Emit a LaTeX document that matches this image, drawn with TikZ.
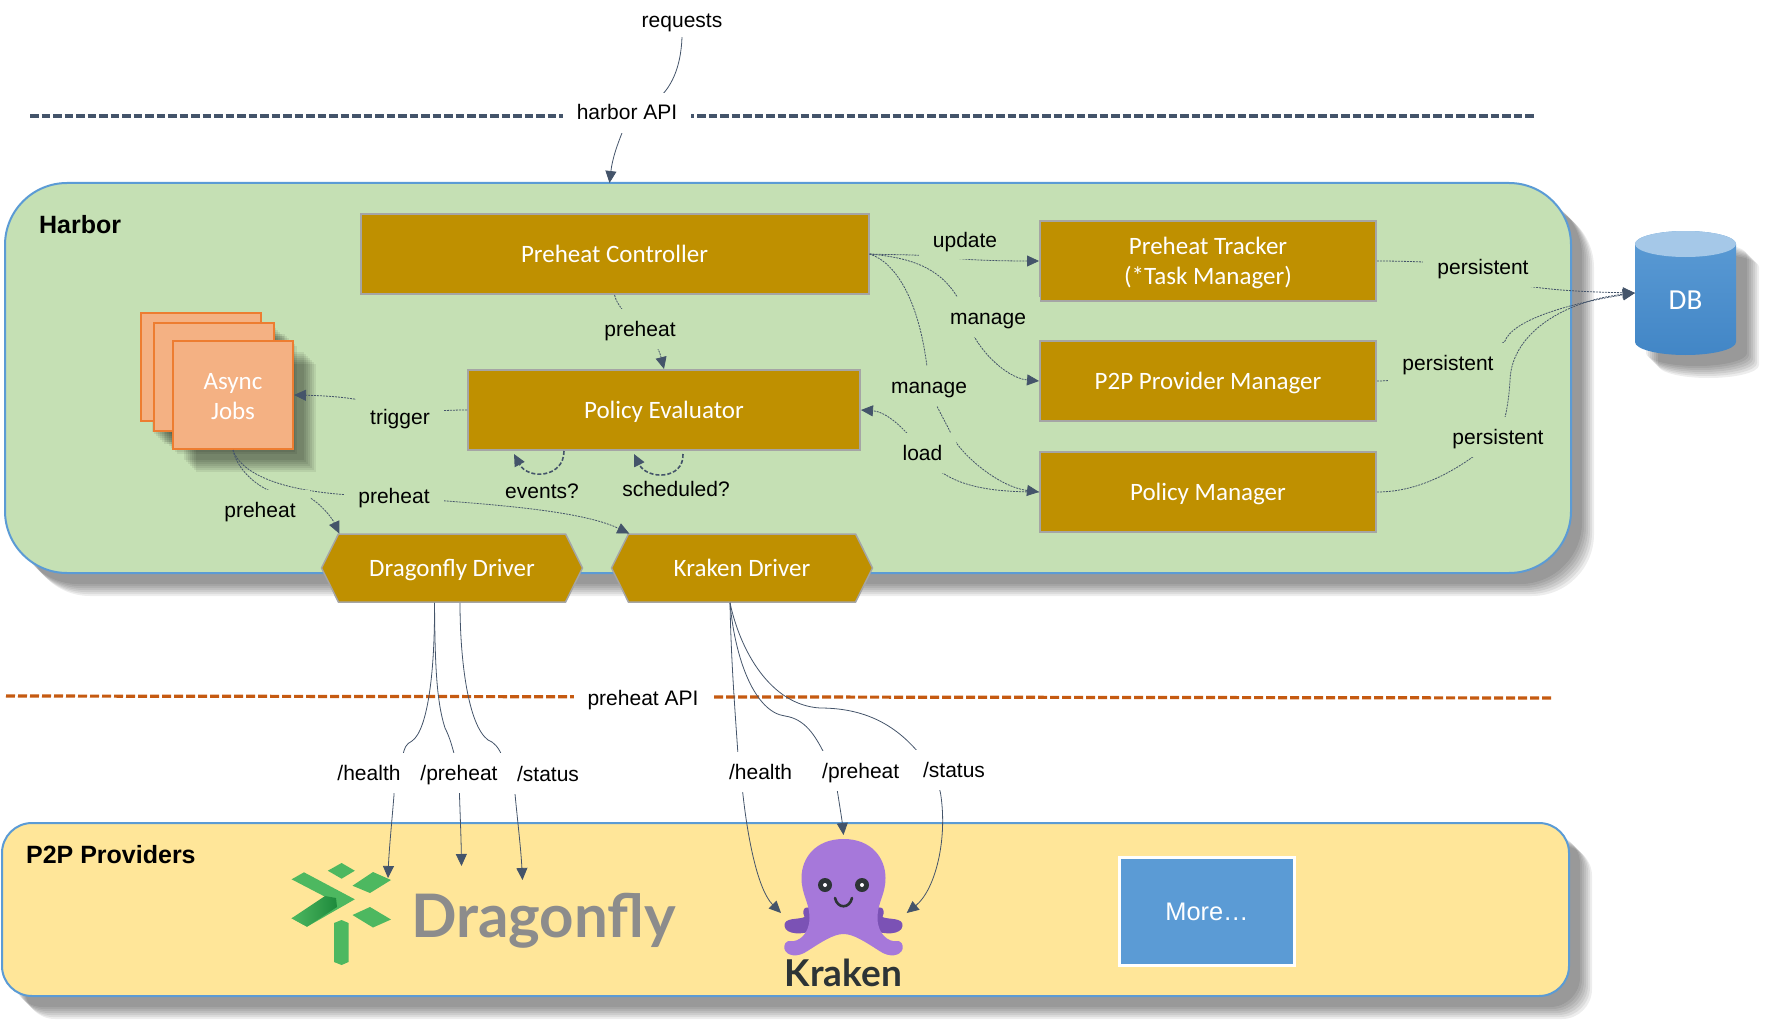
\documentclass[tikz,border=0pt]{standalone}
\usepackage{fontspec}
\usepackage{tikz}
\usetikzlibrary{calc}
\usetikzlibrary{arrows.meta}
\usetikzlibrary{shadows}
\usetikzlibrary{shapes.symbols}
\setmainfont{Liberation Sans}
\newfontfamily\boxfamily{Carlito}
\newfontfamily\logofamily{Lato}
\newcommand{\lblfont}{\fontsize{21}{25}\selectfont}
\newcommand{\boxfont}{\boxfamily\fontsize{25}{30}\selectfont}
\definecolor{harborgreen}{HTML}{C5E0B4}
\definecolor{provideryellow}{HTML}{FFE699}
\definecolor{edgeblue}{HTML}{5B9BD5}
\definecolor{dbbottom}{HTML}{4286C6}
\definecolor{boxgold}{HTML}{BF9000}
\definecolor{boxgrey}{HTML}{A5A5A5}
\definecolor{linknavy}{HTML}{44546A}
\definecolor{apiorange}{HTML}{C55A11}
\definecolor{jobfill}{HTML}{F4B183}
\definecolor{jobedge}{HTML}{ED7D31}
\definecolor{flygreen}{HTML}{4DB860}
\definecolor{flydark}{HTML}{1E8A3C}
\definecolor{octolight}{HTML}{A678DA}
\definecolor{octodark}{HTML}{7B52B5}
\definecolor{octoink}{HTML}{2D3436}
\pgfdeclarelayer{base}
\pgfdeclarelayer{links}
\pgfsetlayers{base,links,main}
\tikzset{
	softshadow/.style={
		drop shadow={shadow xshift=11pt,shadow yshift=-11pt,opacity=.07,fill=black},
		drop shadow={shadow xshift=13pt,shadow yshift=-13pt,opacity=.07,fill=black},
		drop shadow={shadow xshift=15pt,shadow yshift=-15pt,opacity=.07,fill=black},
		drop shadow={shadow xshift=17pt,shadow yshift=-17pt,opacity=.07,fill=black},
		drop shadow={shadow xshift=19pt,shadow yshift=-19pt,opacity=.07,fill=black},
		drop shadow={shadow xshift=21pt,shadow yshift=-21pt,opacity=.07,fill=black},
		drop shadow={shadow xshift=23pt,shadow yshift=-23pt,opacity=.07,fill=black}},
	harborstyle/.style={rectangle,rounded corners=62pt,draw=edgeblue,line width=2pt,fill=harborgreen,inner sep=0pt,softshadow},
	providerstyle/.style={rectangle,rounded corners=30pt,draw=edgeblue,line width=2pt,fill=provideryellow,inner sep=0pt,softshadow},
	boxstyle/.style={rectangle,draw=boxgrey,line width=2pt,fill=boxgold,text=white,inner sep=0pt,align=center,font=\boxfont},
	lineboxstyle/.style={boxstyle,text height=22pt,text depth=6pt},
	driverstyle/.style={signal,signal to=east and west,signal pointer angle=127,draw=boxgrey,line width=1.5pt,fill=boxgold,text=white,inner sep=0pt,minimum width=261pt,minimum height=68pt,text height=22pt,text depth=6pt,font=\boxfont},
	jobstyle/.style={rectangle,draw=jobedge,line width=2pt,fill=jobfill,text=white,inner sep=0pt,align=center,minimum width=120pt,minimum height=108pt,font=\boxfont,softshadow},
	dbstyle/.style={top color=edgeblue,bottom color=dbbottom,softshadow},
	lblstyle/.style={rectangle,fill=white,inner xsep=14pt,inner ysep=0pt,minimum height=40pt,text height=17pt,text depth=3pt,font=\lblfont},
	lblgreen/.style={lblstyle,fill=harborgreen},
	link/.style={draw=linknavy,line width=.8pt,-{Stealth[inset=0pt,length=12pt,width=11pt]}},
	flow/.style={link,dash pattern=on 2pt off 1pt},
	selfloop/.style={link,line width=1.6pt,dash pattern=on 4pt off 2pt},
}
\begin{document}
\begin{tikzpicture}[x=1pt,y=-1pt]
	\useasboundingbox (0,0) rectangle (1766,1027);
	\begin{pgfonlayer}{base}
	% containers
	\node[harborstyle,minimum width=1566pt,minimum height=390pt] (harbor) at (788,378) {};
	\node[providerstyle,minimum width=1567pt,minimum height=173pt] (providers) at (785.5,909.5) {};
	\node[font=\bfseries\fontsize{25}{30}\selectfont,anchor=west] (harbortitle) at (35.6,225) {Harbor};
	\node[font=\bfseries\fontsize{25}{30}\selectfont,anchor=west] (providertitle) at (22.6,855) {P2P Providers};
	% api borders
	\coordinate (navyleft) at (30,116);
	\coordinate (navyright) at (1536,116);
	\coordinate (orangeleft) at (6,696);
	\coordinate (orangeright) at (1551,698);
	\draw[linknavy,line width=3.2pt,dash pattern=on 8.5pt off 3pt] (navyleft)--(navyright);
	\draw[apiorange,line width=3.2pt,dash pattern=on 9pt off 3pt] (orangeleft)--(orangeright);
	% boxes
	\node[lineboxstyle,minimum width=508pt,minimum height=80pt] (controller) at (614.5,254) {Preheat Controller};
	\node[lineboxstyle,minimum width=392pt,minimum height=80pt] (evaluator) at (664,410) {Policy Evaluator};
	\node[boxstyle,minimum width=336pt,minimum height=80pt] (tracker) at (1208,261) {\rule{0pt}{21.5pt}Preheat Tracker\\(*Task Manager)};
	\node[lineboxstyle,minimum width=336pt,minimum height=80pt] (p2pmgr) at (1208,381) {P2P Provider Manager};
	\node[lineboxstyle,minimum width=336pt,minimum height=80pt] (policymgr) at (1208,492) {Policy Manager};
	\node[jobstyle] (jobback) at (200.5,367) {};
	\node[jobstyle] (jobmid) at (213.5,377) {};
	\node[jobstyle] (jobs) at (233,395) {\rule{0pt}{19pt}Async\\Jobs};
	\node[driverstyle] (dragonfly) at (452,568) {Dragonfly Driver};
	\node[driverstyle] (kraken) at (742,568) {Kraken Driver};
	\path[dbstyle] (1635,244) -- (1635,342) .. controls (1635,349.2) and (1657.6,355) .. (1685.5,355) .. controls (1713.4,355) and (1736,349.2) .. (1736,342) -- (1736,244) .. controls (1736,236.8) and (1713.4,231) .. (1685.5,231) .. controls (1657.6,231) and (1635,236.8) .. (1635,244) -- cycle;
	\fill[edgeblue!55!white] (1685.5,244) ellipse (50.5 and 13);
	\node[text=white,font=\boxfamily\fontsize{29}{32}\selectfont,inner sep=0pt,minimum width=101pt,minimum height=124pt,text height=34pt,text depth=2pt] (db) at (1685.5,293) {DB};
	\node[rectangle,draw=white,line width=3pt,fill=edgeblue,text=white,inner sep=0pt,minimum width=175pt,minimum height=108pt,font=\fontsize{25.4}{28}\selectfont] (more) at (1207,911.5) {More…};
	% dragonfly logo
	\fill[flygreen] (341.6,863)--(354.8,870.7)--(341.6,878.7)--(327.8,870.7)--cycle;
	\fill[flygreen] (373,872)--(391,880)--(370,893)--(352.5,885.7)--cycle;
	\fill[flygreen] (291.6,879.3)--(304,872.3)--(354.8,899.3)--(307,926.7)--(291.6,918.3)--(330,899.3)--cycle;
	\shade[left color=flygreen,right color=flydark] (291.6,918.3)--(325,896)--(336,898)--(337,907)--(307,926.7)--cycle;
	\fill[flygreen] (370,907)--(391,919.5)--(373,927.5)--(352.5,915)--cycle;
	\fill[flygreen] (334,923)--(341.6,920)--(348.5,923)--(348.5,962)--(341.6,965)--(334,962)--cycle;
	\node[text=black!45,font=\logofamily\bfseries\fontsize{60}{64}\selectfont,anchor=base west,inner sep=0pt] (flyword) at (411,937) {Dragonfly};
	% kraken logo
	\begin{scope}[shift={(843.5,0)}]
		\foreach \side in {1,-1}{
			\fill[octodark,xscale=\side] (30,910) .. controls (36,904) and (43,908) .. (39,917) .. controls (45,920) and (60,917) .. (59,926) .. controls (58,935) and (40,935) .. (30,930) -- cycle;
		}
		\fill[octolight] (0,839) .. controls (28,839) and (42,858) .. (42,878) .. controls (42,895) and (34,902) .. (34,918) .. controls (34,935) and (46,942) .. (52,941) .. controls (58,940) and (60,945) .. (59,949) .. controls (57,956) and (46,958) .. (36,951) .. controls (22,942) and (10,934) .. (0,934) .. controls (-10,934) and (-22,942) .. (-36,951) .. controls (-46,958) and (-57,956) .. (-59,949) .. controls (-60,945) and (-58,940) .. (-52,941) .. controls (-46,942) and (-34,935) .. (-34,918) .. controls (-34,902) and (-42,895) .. (-42,878) .. controls (-42,858) and (-28,839) .. (0,839) -- cycle;
		\foreach \side in {1,-1}{
			\fill[octoink] (\side*18.5,885) circle (7);
			\fill[white] (\side*18.5,885) circle (2);
		}
		\draw[octoink,line width=2.6pt,line cap=round] (-8.5,898) .. controls (-6,909) and (6,909) .. (8.5,898);
	\end{scope}
	\node[text=octoink,font=\logofamily\bfseries\fontsize{37}{40}\selectfont,anchor=base] (krakenword) at (843.5,986) {Kraken};
	\end{pgfonlayer}
	% labels
	\node[lblstyle,minimum height=32pt] (requests) at (682,21) {requests};
	\node[lblstyle] (harborapi) at (627,113) {harbor API};
	\node[lblstyle] (preheatapi) at (643,698) {preheat API};
	\node[lblgreen] (preheatlbl) at (640,329) {preheat};
	\node[lblgreen,minimum height=38pt] (updatelbl) at (965,240) {update};
	\node[lblgreen] (managetop) at (988,317) {manage};
	\node[lblgreen] (managelow) at (929,386) {manage};
	\node[lblgreen] (loadlbl) at (922.5,453) {load};
	\node[lblgreen] (persisttop) at (1483,267) {persistent};
	\node[lblgreen] (persistmid) at (1448,363) {persistent};
	\node[lblgreen] (persistlow) at (1498,437) {persistent};
	\node[lblgreen] (triggerlbl) at (400,417) {trigger};
	\node[font=\lblfont,text height=17pt,text depth=3pt,inner sep=0pt] (eventslbl) at (542,491) {events?};
	\node[font=\lblfont,text height=17pt,text depth=3pt,inner sep=0pt] (scheduledlbl) at (676,489) {scheduled?};
	\node[lblgreen] (preheatleft) at (260,510) {preheat};
	\node[lblgreen] (preheatright) at (394,496) {preheat};
	\node[lblstyle] (healthleft) at (369,773) {/health};
	\node[lblstyle] (preheatcallleft) at (459,773) {/preheat};
	\node[lblstyle] (statusleft) at (548,774) {/status};
	\node[lblstyle] (healthright) at (760.6,772) {/health};
	\node[lblstyle] (preheatcallright) at (860.7,771) {/preheat};
	\node[lblstyle] (statusright) at (954,770) {/status};
	\coordinate (harborin) at (609.5,183);
	\coordinate (flyhealth) at (388,878);
	\coordinate (flypreheat) at (461.5,866);
	\coordinate (flystatus) at (522.5,880);
	\coordinate (octohealth) at (781,913);
	\coordinate (octotop) at (843.5,835);
	\coordinate (octostatus) at (906.7,913);
	\begin{pgfonlayer}{links}
	% requests
	\draw[link] (requests.south) .. controls (681,65) and (672,105) .. (harborapi.center) .. controls (630,120) and (614,145) .. (harborin);
	% controller side
	\draw[flow] (controller.south) .. controls (616,300) and (617,306) .. (preheatlbl.center) .. controls (650,335) and (658,345) .. (evaluator.north);
	\draw[flow] (controller.east) .. controls (890,255) and (925,254) .. (958,258.5) .. controls (975,260.5) and (1010,261) .. (tracker.west);
	\draw[flow] (controller.east) .. controls (915,258) and (950,270) .. (966,316) .. controls (972,345) and (1005,378) .. (p2pmgr.west);
	\draw[flow] (controller.east) .. controls (895,262) and (922,300) .. (managelow.center) .. controls (932,400) and (945,420) .. (953,438) .. controls (965,458) and (1000,487) .. (policymgr.west);
	\draw[flow] (policymgr.west) .. controls (990,492) and (945,487) .. (loadlbl.center) .. controls (912,437) and (890,412) .. (evaluator.east);
	% persistence
	\draw[flow] (tracker.east) .. controls (1400,261) and (1450,262) .. (persisttop.center) .. controls (1490,290) and (1590,292) .. (db.west);
	\draw[flow] (p2pmgr.east) .. controls (1400,381) and (1430,375) .. (persistmid.center) .. controls (1480,355) and (1495,350) .. (1505,341) .. controls (1512,322) and (1560,305) .. (db.west);
	\draw[flow] (policymgr.east) .. controls (1420,492) and (1460,470) .. (persistlow.center) .. controls (1505,425) and (1509,400) .. (1510,380) .. controls (1512,330) and (1570,300) .. (db.west);
	% evaluator side
	\draw[flow] (evaluator.west) .. controls (440,410) and (420,412) .. (triggerlbl.center) .. controls (385,400) and (340,396) .. (jobs.east);
	\draw[selfloop] ($(evaluator.south)+(-100,0)$) .. controls (564,478) and (528,480) .. ($(evaluator.south)+(-150,3)$);
	\draw[selfloop] ($(evaluator.south)+(19,3)$) .. controls (684,480) and (647,480) .. ($(evaluator.south)+(-30,3)$);
	% async jobs
	\draw[flow] (jobs.south) .. controls (236,465) and (250,482) .. (270,491) .. controls (285,496) and (300,492) .. (312,499) .. controls (325,508) and (333,520) .. (dragonfly.163);
	\draw[flow] (jobs.south) .. controls (240,472) and (280,497) .. (preheatright.center) .. controls (430,502) and (570,505) .. (kraken.163);
	% dragonfly driver calls
	\draw[link] ($(dragonfly.south)+(-17.5,0)$) .. controls (435,670) and (428,730) .. (412,741) .. controls (406,744) and (404,748) .. (403,756) .. controls (401,768) and (380,772) .. (healthleft.center) .. controls (385,780) and (395,785) .. (394,795) .. controls (392,820) and (389,850) .. (flyhealth);
	\draw[link] ($(dragonfly.south)+(-17.5,0)$) .. controls (435,660) and (436,700) .. (445,728) .. controls (450,738) and (452,745) .. (preheatcallleft.center) .. controls (459,790) and (461,830) .. (flypreheat);
	\draw[link] ($(dragonfly.south)+(8,0)$) .. controls (460,660) and (468,725) .. (488,740) .. controls (494,742) and (499,748) .. (502,756) .. controls (505,768) and (530,774) .. (statusleft.center) .. controls (525,782) and (515,785) .. (515,794) .. controls (518,825) and (521,850) .. (flystatus);
	% kraken driver calls
	\draw[link] ($(kraken.south)+(-12,0)$) .. controls (731,660) and (735,710) .. (738,755) .. controls (740,775) and (742,785) .. (743,795) .. controls (748,840) and (758,890) .. (octohealth);
	\draw[link] ($(kraken.south)+(-12,0)$) .. controls (735,660) and (755,712) .. (785,716) .. controls (805,719) and (815,735) .. (825,755) .. controls (830,770) and (836,780) .. (838,795) .. controls (840,808) and (842,820) .. (octotop);
	\draw[link] ($(kraken.south)+(-12,0)$) .. controls (740,650) and (770,705) .. (820,708) .. controls (865,708) and (895,725) .. (918,752) .. controls (925,765) and (938,778) .. (940.5,793) .. controls (948,840) and (935,890) .. (octostatus);
	\end{pgfonlayer}
\end{tikzpicture}
\end{document}
